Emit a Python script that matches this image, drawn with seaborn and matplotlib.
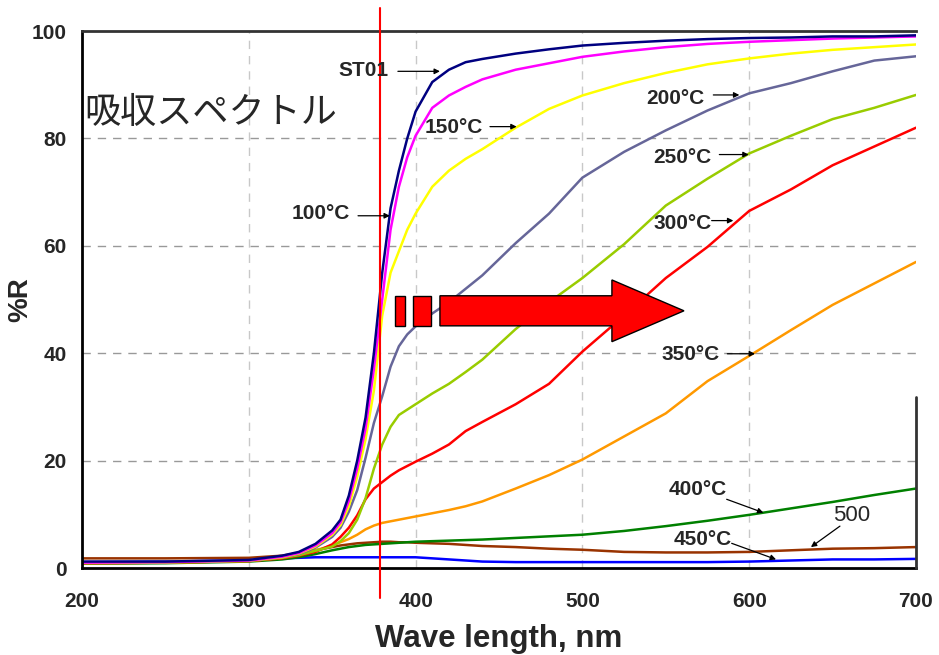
import numpy as np
import pandas as pd
import matplotlib
matplotlib.use('Agg')
import matplotlib.pyplot as plt
import seaborn as sns
from matplotlib.patches import FancyArrow, Rectangle

# wavelength grid (nm)
wave = [200, 250, 300, 320, 330, 340, 350, 355, 360, 365, 370, 375, 380, 385, 390, 395,
        400, 410, 420, 430, 440, 460, 480, 500, 525, 550, 575, 600, 625, 650, 675, 700]

# %R
st01 = [1.2, 1.2, 1.5, 2.3, 3.0, 4.5, 7.0, 9.0, 13.5, 20, 28, 40, 55, 67, 74, 80,
        85, 90.5, 92.8, 94.2, 94.8, 95.8, 96.6, 97.3, 97.8, 98.2, 98.5, 98.7, 98.8, 99, 99, 99.2]
t100 = [1.0, 1.1, 1.4, 2.1, 2.8, 4.2, 6.5, 8.5, 12.5, 18.5, 26, 37, 50, 63, 71, 76.5,
        80.5, 85.7, 88, 89.6, 91, 92.8, 94, 95.2, 96.2, 97, 97.6, 98, 98.3, 98.6, 98.8, 99]
t150 = [1.0, 1.1, 1.4, 2.0, 2.7, 4.0, 6.2, 8.0, 11.5, 17, 24, 33, 47, 55, 59, 63,
        66, 71, 74, 76.2, 78, 82, 85.5, 88, 90.3, 92.2, 93.8, 94.9, 95.8, 96.5, 97, 97.5]
t200 = [1.0, 1.1, 1.4, 2.0, 2.6, 3.8, 5.8, 7.5, 10.5, 14.5, 20.5, 27, 32, 37.5, 41.3, 43.5,
        45, 47.4, 49.5, 52, 54.5, 60.5, 66, 72.7, 77.5, 81.5, 85.2, 88.4, 90.3, 92.5, 94.5, 95.3]
t250 = [0.9, 1.0, 1.3, 1.9, 2.4, 3.2, 4.0, 5.0, 6.5, 9.0, 13, 18.5, 23, 26.3, 28.5, 29.5,
        30.5, 32.5, 34.3, 36.5, 38.8, 44.5, 49.5, 54, 60.3, 67.5, 72.5, 77.2, 80.5, 83.6, 85.7, 88.1]
t300 = [0.9, 1.0, 1.3, 1.8, 2.3, 3.0, 4.4, 5.8, 7.5, 9.8, 12.8, 14.8, 16, 17.2, 18.2, 19,
        19.8, 21.3, 23, 25.5, 27.2, 30.5, 34.3, 40.3, 47, 54, 59.8, 66.5, 70.5, 75, 78.5, 82]
t350 = [0.9, 1.0, 1.3, 1.9, 2.5, 3.3, 4.2, 4.8, 5.4, 6.2, 7.2, 7.9, 8.4, 8.7, 9.0, 9.3,
        9.6, 10.2, 10.8, 11.5, 12.4, 14.8, 17.3, 20.2, 24.5, 28.8, 34.8, 39.5, 44.3, 49, 53, 57]
t400 = [0.8, 0.9, 1.2, 1.6, 2.0, 2.6, 3.3, 3.6, 3.9, 4.1, 4.3, 4.4, 4.5, 4.6, 4.7, 4.8,
        4.9, 5.0, 5.1, 5.2, 5.3, 5.6, 5.9, 6.2, 6.9, 7.8, 8.8, 9.9, 11.1, 12.3, 13.6, 14.8]
t450 = [1.1, 1.2, 1.4, 1.8, 1.9, 2.0, 2.0, 2.0, 2.0, 2.0, 2.0, 2.0, 2.0, 2.0, 2.0, 2.0,
        2.0, 1.8, 1.6, 1.4, 1.2, 1.1, 1.1, 1.1, 1.1, 1.1, 1.1, 1.2, 1.4, 1.6, 1.6, 1.7]
t500 = [1.8, 1.8, 1.9, 2.3, 2.8, 3.3, 3.9, 4.2, 4.4, 4.6, 4.7, 4.8, 4.9, 4.9, 4.8, 4.8,
        4.7, 4.6, 4.5, 4.3, 4.1, 3.9, 3.6, 3.4, 3.0, 2.9, 2.9, 3.0, 3.3, 3.6, 3.7, 3.9]

series = {'500': t500, '450°C': t450, '400°C': t400, '350°C': t350, '300°C': t300,
          '250°C': t250, '200°C': t200, '150°C': t150, '100°C': t100, 'ST01': st01}
colors = {'ST01': '#000080', '100°C': '#FF00FF', '150°C': '#FFFF00', '200°C': '#666699',
          '250°C': '#99CC00', '300°C': '#FF0000', '350°C': '#FF9900', '400°C': '#008000',
          '450°C': '#0000FF', '500': '#993300'}

df = pd.concat([pd.DataFrame({'wave': wave, 'R': v, 'sample': k}) for k, v in series.items()])

sns.set_style('white')
plt.rcParams['font.family'] = ['Liberation Sans', 'Noto Sans CJK JP', 'DejaVu Sans']

fig = plt.figure(figsize=(9.39, 6.55), dpi=100)
ax = fig.add_axes([0.0873, 0.1328, 0.8882, 0.8198])

# grid
for gx in [300, 400, 500, 600]:
    ax.axvline(gx, color='#c8c8c8', lw=1, ls=(0, (6, 5)), zorder=0)
for gy in [20, 40, 60, 80]:
    ax.axhline(gy, color='#999999', lw=1, ls=(0, (6, 5)), zorder=0)

sns.lineplot(data=df, x='wave', y='R', hue='sample', hue_order=list(series.keys()),
             palette=colors, lw=1.8, legend=False, errorbar=None, ax=ax)

ax.set_xlim(200, 700)
ax.set_ylim(0, 100)
ax.set_xticks([200, 300, 400, 500, 600, 700])
ax.set_yticks([0, 20, 40, 60, 80, 100])
ax.tick_params(axis='both', direction='in', length=6, width=1, labelsize=15, color='#333333')
ax.tick_params(axis='x', pad=17)
ax.tick_params(axis='y', pad=11)
for lab in ax.get_xticklabels() + ax.get_yticklabels():
    lab.set_fontweight('bold')

ax.set_xlabel('Wave length, nm', fontsize=22.5, fontweight='bold')
ax.set_ylabel('%R', fontsize=20, fontweight='bold')
ax.xaxis.set_label_coords(0.5, -0.105)
ax.yaxis.set_label_coords(-0.059, 0.5)

for s in ['left', 'bottom']:
    ax.spines[s].set_color('black')
    ax.spines[s].set_linewidth(2)
ax.spines['top'].set_color('#333333')
ax.spines['top'].set_linewidth(2)
ax.spines['right'].set_visible(False)
ax.plot([700, 700], [0, 31.8], color='#333333', lw=2, clip_on=False, zorder=5)

# red marker line at absorption edge
ax.axvline(378.6, ymin=-0.056, ymax=1.043, color='red', lw=1.5, clip_on=False, zorder=6)

# big red arrow
ax.add_patch(Rectangle((387.6, 45.1), 6.0, 5.6, fc='red', ec='black', lw=1, zorder=7))
ax.add_patch(Rectangle((398.4, 45.1), 10.8, 5.6, fc='red', ec='black', lw=1, zorder=7))
ax.add_patch(FancyArrow(414.6, 47.9, 146.3, 0, width=5.6, head_width=11.5, head_length=43.2,
                        length_includes_head=True, fc='red', ec='black', lw=1, zorder=7))

ax.text(201.2, 84.8, '吸収スペクトル', fontsize=26, family=['Noto Sans CJK JP'],
        ha='left', va='center')

# curve labels: text, text x (right edge), text y, arrow start, arrow end
labels = [
    ('ST01', 384.0, 92.7, (389.4, 92.5), (414.6, 92.5)),
    ('100°C', 360.7, 66.0, (365.5, 65.6), (384.6, 65.6)),
    ('150°C', 440.4, 82.1, (444.6, 82.2), (460.6, 82.2)),
    ('200°C', 573.5, 87.5, (578.5, 88.1), (594.1, 88.1)),
    ('250°C', 577.5, 76.4, (582.1, 77.0), (599.7, 77.0)),
    ('300°C', 577.5, 64.2, (577.5, 64.7), (590.5, 64.7)),
    ('350°C', 582.5, 39.7, (586.9, 39.9), (603.5, 39.9)),
    ('400°C', 586.5, 14.7, (586.5, 12.8), (608.5, 10.3)),
    ('450°C', 589.5, 5.3, (589.5, 4.6), (616.1, 1.6)),
]
for txt, tx, ty, a0, a1 in labels:
    ax.text(tx, ty, txt, fontsize=15, fontweight='bold', ha='right', va='center', zorder=8)
    ax.annotate('', xy=a1, xytext=a0, zorder=8,
                arrowprops=dict(arrowstyle='-|>', lw=0.9, color='black', mutation_scale=8,
                                shrinkA=0, shrinkB=0))

ax.text(661.4, 9.7, '500', fontsize=16, ha='center', va='center', zorder=8)
ax.annotate('', xy=(637.0, 3.9), xytext=(654.4, 7.8), zorder=8,
            arrowprops=dict(arrowstyle='-|>', lw=0.9, color='black', mutation_scale=8,
                            shrinkA=0, shrinkB=0))

fig.savefig('out.png', dpi=100)
